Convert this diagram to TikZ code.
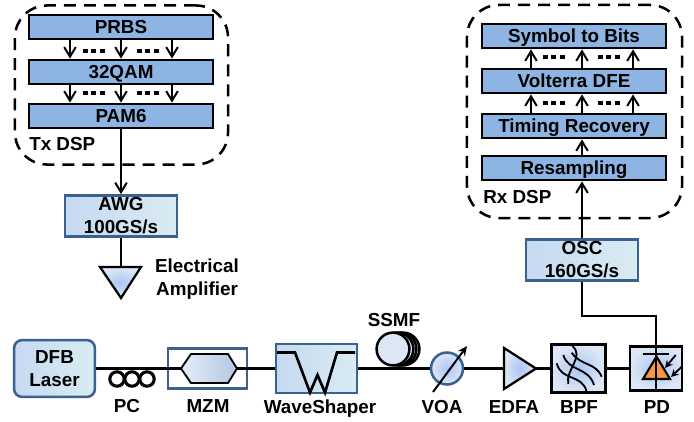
\documentclass[tikz,border=0pt]{standalone}
\usepackage{fontspec}
\setmainfont{Liberation Sans}
\usepackage{tikz}
\usetikzlibrary{arrows.meta,calc,positioning,shapes}
\definecolor{blockblue}{HTML}{8DB4E2}
\definecolor{framblue}{HTML}{3A6290}
\definecolor{instrL}{HTML}{C6D9F1}
\definecolor{instrR}{HTML}{D9ECF2}
\definecolor{softblue}{HTML}{ADC6F5}
\definecolor{paleblue}{HTML}{DCE6F5}
\definecolor{diodeor}{HTML}{F79646}

\begin{document}
\begin{tikzpicture}[
		x=0.025cm, y=-0.025cm,
		every node/.style={font=\bfseries\fontsize{13.4}{16.4}\selectfont, align=center, inner sep=0pt},
		block/.style={rectangle, draw=black, fill=blockblue, line width=2pt, minimum width=4.6cm, minimum height=0.6cm, text height=9.8pt, text depth=0pt},
		dspframe/.style={rectangle, draw=black, dash pattern=on 0.3cm off 0.2cm, line width=1.8pt, rounded corners=0.8cm},
		instr/.style={rectangle, draw=framblue, left color=instrL, right color=instrR, line width=1.8pt, minimum width=2.8cm, minimum height=1.03cm},
		filterbox/.style={rectangle, draw=black, inner color=softblue, outer color=paleblue, line width=2pt},
		sig/.style={line width=1.4pt},
		fiber/.style={line width=2pt},
		dotsrow/.style={line width=3.4pt, dash pattern=on 0.125cm off 0.085cm},
		ring/.style={circle, draw=black, line width=2.2pt, minimum size=0.36cm},
		turn/.style={circle, draw=black, fill=paleblue, line width=1.8pt, minimum size=0.82cm},
		>={Straight Barb[length=2.4mm,width=2.9mm]}
		]
		\useasboundingbox (0,0) rectangle (694,421);
	
		% Tx DSP
		\node[dspframe, minimum width=5.325cm, minimum height=3.975cm] (txframe) at (121.5,85) {};
		\node[block] (prbs) at (121,27) {PRBS};
		\node[block] (qam) at (121,72) {32QAM};
		\node[block] (pam) at (121,116) {PAM6};
		\node[anchor=west] (txlabel) at (29,144) {Tx DSP};
		\foreach \dx in {-1.275,0,1.275} {
			\draw[sig,->] ([xshift=\dx cm]prbs.south) -- ([xshift=\dx cm]qam.north);
			\draw[sig,->] ([xshift=\dx cm]qam.south) -- ([xshift=\dx cm]pam.north);
		}
		\foreach \y in {51,93} {
			\draw[dotsrow] (83,\y) -- (105,\y);
			\draw[dotsrow] (137,\y) -- (159,\y);
		}
	
		% Rx DSP
		\node[dspframe, minimum width=5.375cm, minimum height=5.325cm] (rxframe) at (574.5,111.5) {};
		\node[block] (bits) at (574,36) {Symbol to Bits};
		\node[block] (dfe) at (574,81) {Volterra DFE};
		\node[block] (timing) at (574,126) {Timing Recovery};
		\node[block] (resamp) at (574,168) {Resampling};
		\node[anchor=west] (rxlabel) at (483,197) {Rx DSP};
		\foreach \dx in {-1.075,0.2,1.475} {
			\draw[sig,->] ([xshift=\dx cm]dfe.north) -- ([xshift=\dx cm]bits.south);
			\draw[sig,->] ([xshift=\dx cm]timing.north) -- ([xshift=\dx cm]dfe.south);
		}
		\draw[sig,->] ([xshift=0.2cm]resamp.north) -- ([xshift=0.2cm]timing.south);
		\foreach \y in {57,103} {
			\draw[dotsrow] (543,\y) -- (565,\y);
			\draw[dotsrow] (598,\y) -- (620,\y);
		}
	
		% AWG et OSC
		\node[instr] (awg) at (121,216) {AWG\\100GS/s};
		\node[instr] (osc) at (582,260) {OSC\\160GS/s};
		\draw[sig,->] (pam.south) -- (awg.north);
		\draw[sig,->] (osc.north) -- (osc.north |- resamp.south);
	
		% Amplificateur
		\coordinate (ampL) at (100,267);
		\coordinate (ampR) at (141,267);
		\coordinate (ampT) at (121,298);
		\coordinate (ampM) at (121,267);
		\draw[sig] (awg.south) -- (ampM);
		\path[inner color=softblue, outer color=paleblue] (ampL) -- (ampR) -- (ampT) -- cycle;
		\draw[line width=1.6pt, line join=miter] (ampL) -- (ampR) -- (ampT) -- cycle;
		\node (amplabel) at (197,279.5) {Electrical\\Amplifier};
	
		% Ligne optique
		\node[instr, rounded corners=0.2cm, minimum width=2.02cm, minimum height=1.42cm] (dfb) at (54.5,368.5) {DFB\\Laser};
		\node[rectangle, draw=framblue, line width=1.8pt, minimum width=1.98cm, minimum height=1cm] (mzm) at (207.5,368.5) {};
		\node[instr, minimum width=2.03cm, minimum height=1.22cm] (ws) at (316.5,368.5) {};
		\node[filterbox, minimum width=1.33cm, minimum height=1.18cm] (bpf) at (578.5,368.5) {};
		\node[filterbox, minimum width=1.3cm, minimum height=1.1cm] (pd) at (656,368.5) {};
		\coordinate (hexL) at (181,368.5);
		\coordinate (hexR) at (237,368.5);
		\coordinate (edfaL) at (504,368.5);
		\coordinate (edfaT) at (536,368.5);
		\node[turn] (coilD) at (403,349) {};
		\node[turn] (coilC) at (400,349) {};
		\node[turn] (coilB) at (397,349) {};
		\node[turn] (coilA) at (393,349) {};
		\node[circle, draw=framblue, line width=1.8pt, inner color=softblue, outer color=paleblue, minimum size=0.8cm] (voa) at (447,368.5) {};
		\draw[fiber] (dfb.east) -- (hexL);
		\draw[fiber] (hexR) -- (ws.west);
		\draw[fiber] (ws.east) -- (voa.west);
		\draw[fiber] (voa.east) -- (edfaL);
		\draw[fiber] (edfaT) -- (bpf.west);
		\draw[fiber] (bpf.east) -- (pd.west);
	
		% PC, MZM, WaveShaper
		\node[ring] (pcA) at (117,379) {};
		\node[ring] (pcB) at (132,379) {};
		\node[ring] (pcC) at (147,379) {};
		\path[left color=paleblue!70!white, right color=instrL!85!framblue] (hexL) -- (191,354) -- (228,354) -- (hexR) -- (228,383) -- (191,383) -- cycle;
		\draw[line width=1.3pt] (hexL) -- (191,354) -- (228,354) -- (hexR) -- (228,383) -- (191,383) -- cycle;
		\draw[line width=1.9pt] (277,352.5) -- (295,352.5) -- (310,392.5) -- (317.5,375) -- (325,392.5) -- (337,352.5) -- (355,352.5);
	
		% VOA, EDFA
		\coordinate (voaS) at (433,392);
		\coordinate (voaE) at (467,346);
		\draw[line width=1.4pt, -{Stealth[length=2.4mm,width=2.2mm]}] (voaS) -- (voaE);
		\path[inner color=softblue, outer color=paleblue] (504,348) -- (edfaT) -- (504,389) -- cycle;
		\draw[line width=1.6pt, draw=black] (504,348) -- (edfaT) -- (504,389) -- cycle;
	
		% BPF
		\draw[line width=1.3pt] (571.7,352.7) .. controls (581.7,366.7) and (595,361.7) .. (601.7,376.7);
		\draw[line width=1.3pt] (563.3,355) .. controls (568.3,371.7) and (588.3,366.7) .. (594,385);
		\draw[line width=1.3pt] (556.7,363.3) .. controls (561.7,381.7) and (581.7,373.3) .. (586.7,391.7);
		\draw[line width=1.3pt] (572.3,346) .. controls (585,356.7) and (565,370) .. (568.3,384);
	
		% PD
		\draw[line width=1.5pt, fill=diodeor] (656.5,356.5) -- (670,379) -- (643,379) -- cycle;
		\draw[line width=1.5pt] (643,354) -- (669,354);
		\draw[sig] (pd.south) -- ++(0,-76) -| (osc.south);
		\draw[line width=1.3pt, -{Stealth[length=1.9mm,width=1.9mm]}] (675.7,355) -- (665,368);
		\draw[line width=1.3pt, -{Stealth[length=1.9mm,width=1.9mm]}] (681.7,366.7) -- (671,377);
	
		% Noms
		\node (pclabel) at (127,406.5) {PC};
		\node (mzmlabel) at (208,406.5) {MZM};
		\node (wslabel) at (320,409) {WaveShaper};
		\node (ssmflabel) at (394,320) {SSMF};
		\node (voalabel) at (442,407) {VOA};
		\node (edfalabel) at (514,407) {EDFA};
		\node (bpflabel) at (579,407) {BPF};
		\node (pdlabel) at (657,407) {PD};
	\end{tikzpicture}
\end{document}
